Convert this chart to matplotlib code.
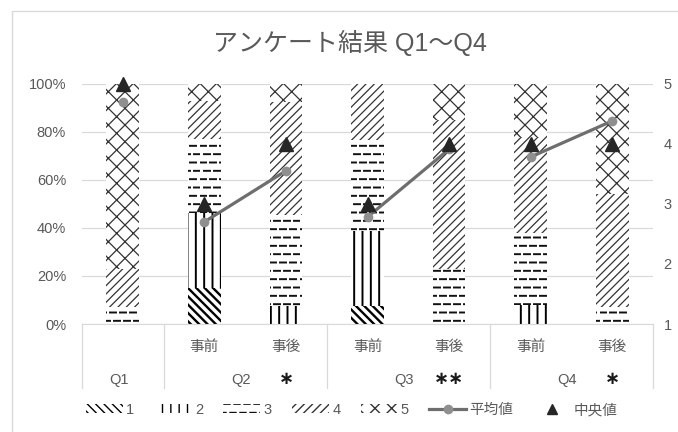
import numpy as np
import matplotlib
matplotlib.use("Agg")
import matplotlib.pyplot as plt
from matplotlib import hatch as mhatch
from matplotlib.path import Path
from matplotlib.patches import Patch, Rectangle
from matplotlib.lines import Line2D
import matplotlib.transforms as mtransforms

# --- data ---
columns = ["", "事前", "事後", "事前", "事後", "事前", "事後"]
groups = ["Q1", "Q2", "Q3", "Q4"]
group_sizes = [1, 2, 2, 2]
signif = ["", "∗", "∗∗", "∗"]

# share of answers per level (%), one value per column
level1 = [0, 15, 0, 7.5, 0, 0, 0]
level2 = [0, 31, 7.5, 31, 0, 8, 0]
level3 = [7, 31, 38, 38, 23, 30, 7]
level4 = [16, 16, 47, 23.5, 62, 40, 47]
level5 = [77, 7, 7.5, 0, 15, 22, 46]
level_names = ["1", "2", "3", "4", "5"]

means = [4.70, 2.70, 3.55, 2.78, 3.91, 3.78, 4.38]
medians = [5, 3, 4, 3, 4, 4, 4]


# dashed horizontal hatch (Excel "dashed horizontal" pattern) replaces the plain '-'
class DashHatch(mhatch.HatchPatternBase):
    def __init__(self, hatch, density):
        self.num_rows = int(hatch.count('-') * density)
        self.num_dashes = 10
        self.num_vertices = self.num_rows * self.num_dashes * 2

    def set_vertices_and_codes(self, vertices, codes):
        step = 1.0 / self.num_dashes
        k = 0
        for i in range(self.num_rows):
            y = (i + 0.5) / self.num_rows
            shift = 0.4 * step if i % 2 else 0.0
            for j in range(self.num_dashes):
                x0 = j * step + shift
                vertices[k] = (x0, y)
                vertices[k + 1] = (x0 + 0.6 * step, y)
                codes[k] = Path.MOVETO
                codes[k + 1] = Path.LINETO
                k += 2


mhatch._hatch_types = [DashHatch if t is mhatch.HorizontalHatch else t
                       for t in mhatch._hatch_types]

plt.rcParams['font.family'] = ['Liberation Sans', 'Noto Sans CJK JP', 'DejaVu Sans']
grey_txt = '#595959'

hatches = [chr(92) * 4, '||', '--', '////', 'xx']
hatch_cols = ['#000000', '#000000', '#111111', '#333333', '#333333']
hatch_lws = [1.7, 1.4, 1.4, 0.9, 0.9]

fig = plt.figure(figsize=(6.78, 4.32), dpi=100)
ax = fig.add_axes([82 / 678, 1 - 324 / 432, 571 / 678, 240.3 / 432])

x = np.arange(len(columns))
levels = [level1, level2, level3, level4, level5]
bottom = np.zeros(len(columns))
for vals, h, c, lw in zip(levels, hatches, hatch_cols, hatch_lws):
    vals = np.array(vals) / 100.0
    with plt.rc_context({'hatch.linewidth': lw}):
        ax.bar(x, vals, 0.40, bottom=bottom, facecolor='white',
               edgecolor=c, linewidth=0, hatch=h, zorder=2)
    bottom += vals

ax.set_xlim(-0.5, len(columns) - 0.5)
ax.set_ylim(0, 1)
ticks = np.arange(0, 1.01, 0.2)
ax.set_yticks(ticks)
ax.set_yticklabels([f"{int(round(v * 100))}%" for v in ticks])
ax.yaxis.grid(True, color='#d9d9d9', lw=0.9)
ax.set_axisbelow(True)
ax.set_xticks([])
ax.tick_params(axis='y', length=0, pad=11.5, labelsize=10.5, labelcolor=grey_txt)
for s in ['top', 'right', 'left']:
    ax.spines[s].set_visible(False)
ax.spines['bottom'].set_color('#d9d9d9')
ax.spines['bottom'].set_zorder(3)

# secondary axis: mean and median
ax2 = ax.twinx()
ax2.set_ylim(1, 5)
ax2.set_yticks([1, 2, 3, 4, 5])
ax2.tick_params(axis='y', length=0, pad=7.5, labelsize=10.5, labelcolor=grey_txt)
for s in ax2.spines.values():
    s.set_visible(False)

start = 0
for size in group_sizes:
    idx = slice(start, start + size)
    ax2.plot(x[idx], means[idx], color='#6e6e6e', lw=2.3, marker='o',
             markersize=7, markerfacecolor='#8f8f8f', markeredgewidth=0,
             zorder=4, clip_on=False)
    start += size
ax2.plot(x, medians, linestyle='none', marker='^', markersize=10.5,
         color='#262626', zorder=5, clip_on=False)

# category labels (two levels) with separators
trans = mtransforms.blended_transform_factory(ax.transData, ax.transAxes)
edges = np.concatenate([[0], np.cumsum(group_sizes)]) - 0.5
for e in edges:
    ax.plot([e, e], [0, -0.266], color='#d9d9d9', lw=0.9,
            transform=trans, clip_on=False)
for xi, lab in zip(x, columns):
    if lab:
        ax.text(xi, -0.094, lab, transform=trans, ha='center', va='center',
                fontsize=10.5, color=grey_txt)
for g, (lo, hi) in enumerate(zip(edges[:-1], edges[1:])):
    ax.text((lo + hi) / 2 - 0.05, -0.233, groups[g], transform=trans,
            ha='center', va='center', fontsize=10.5, color=grey_txt)
    if signif[g]:
        ax.text(hi - 0.5, -0.228, signif[g], transform=trans, ha='center',
                va='center', fontsize=13, color='#1a1a1a',
                family='DejaVu Sans', fontweight='bold')

fig.text(350 / 678, 1 - 43 / 432, "アンケート結果 Q1～Q4", ha='center',
         va='center', fontsize=18, color=grey_txt)

# chart border (right and bottom edges are cut off in the reference)
fig.patches.append(Rectangle((12 / 678, -0.1), 1.0, 1.1 - 11 / 432,
                             transform=fig.transFigure, fill=False,
                             edgecolor='#d9d9d9', lw=1))

handles = []
for h, c, lw in zip(hatches, hatch_cols, hatch_lws):
    with plt.rc_context({'hatch.linewidth': lw}):
        handles.append(Patch(facecolor='white', edgecolor=c, linewidth=0, hatch=h))
handles.append(Line2D([], [], color='#6e6e6e', lw=2.3, marker='o', markersize=7,
                      markerfacecolor='#8f8f8f', markeredgewidth=0))
handles.append(Line2D([], [], linestyle='none', marker='^', markersize=7,
                      color='#262626'))
labels = level_names + ["平均値", "中央値"]
leg = fig.legend(handles, labels, loc='center', ncol=7,
                 bbox_to_anchor=(352 / 678, 1 - 410 / 432), frameon=False,
                 fontsize=10.5, handlelength=2.5, handleheight=0.55,
                 handletextpad=0.25, columnspacing=1.4)
for t in leg.get_texts():
    t.set_color(grey_txt)

fig.savefig("out.png", dpi=100)
